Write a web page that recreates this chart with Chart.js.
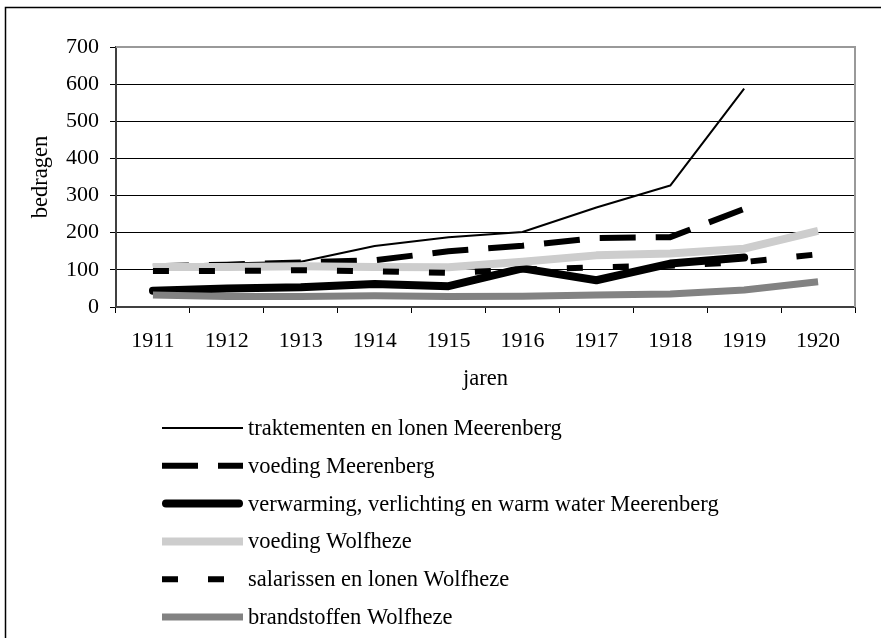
<!DOCTYPE html>
<html>
<head>
<meta charset="utf-8">
<script src="https://cdn.jsdelivr.net/npm/chart.js@4.4.1/dist/chart.umd.min.js"></script>
<style>
  body { margin: 0; background: #fff; }
  #wrap { width: 881px; height: 638px; }
</style>
</head>
<body>
<div id="wrap"><canvas id="chart" width="881" height="638"></canvas></div>
<script>
// jaren
var years = ['1911', '1912', '1913', '1914', '1915', '1916', '1917', '1918', '1919', '1920'];

// bedragen per reeks
var traktementenMeerenberg = [113, 117, 122, 164, 188, 202, 268, 327, 588, null];
var voedingMeerenberg = [110, 114, 120, 126, 150, 165, 186, 188, 264, null];
var verwarmingMeerenberg = [44, 50, 53, 62, 56, 104, 72, 117, 133, null];
var voedingWolfheze = [108, 108, 110, 108, 107, 122, 139, 144, 157, 205];
var salarissenWolfheze = [97, 97, 99, 96, 92, 101, 107, 111, 121, 142];
var brandstoffenWolfheze = [32, 28, 28, 30, 28, 29, 32, 35, 46, 68];

var seriesNames = [
    'traktementen en lonen Meerenberg',
    'voeding Meerenberg',
    'verwarming, verlichting en warm water Meerenberg',
    'voeding Wolfheze',
    'salarissen en lonen Wolfheze',
    'brandstoffen Wolfheze'
];

var yTicks = [0, 100, 200, 300, 400, 500, 600, 700];

var serif = "'Liberation Serif', 'Times New Roman', serif";

function lineSet(i, data, color, width, dash, cap){
    return {
        label: seriesNames[i],
        data: data,
        borderColor: color,
        backgroundColor: color,
        borderWidth: width,
        borderDash: dash,
        borderCapStyle: cap || 'butt',
        borderJoinStyle: 'round',
        pointRadius: 0,
        tension: 0,
        fill: false,
        order: 6 - i
    };
}

// legenda onder de grafiek, een reeks per regel
var stackedLegend = {
    id: 'stackedLegend',
    afterDraw: function(chart){
        var ctx = chart.ctx;
        ctx.save();
        chart.data.datasets.forEach(function(ds, i){
            var y = 428 + i * 37.8;
            ctx.beginPath();
            ctx.strokeStyle = ds.borderColor;
            ctx.lineWidth = ds.borderWidth;
            ctx.lineCap = ds.borderCapStyle;
            ctx.setLineDash(ds.borderDash || []);
            var x0 = 162, x1 = 243;
            if (ds.borderCapStyle === 'round') { x0 += ds.borderWidth / 2; x1 -= ds.borderWidth / 2; }
            ctx.moveTo(x0, y);
            ctx.lineTo(x1, y);
            ctx.stroke();
            ctx.setLineDash([]);
            ctx.fillStyle = '#000';
            ctx.font = '22.5px ' + serif;
            ctx.textBaseline = 'middle';
            ctx.textAlign = 'left';
            ctx.fillText(ds.label, 248, y + 1);
        });
        ctx.restore();
    }
};

var frame = {
    id: 'frame',
    afterDraw: function(chart){
        var ctx = chart.ctx;
        var a = chart.chartArea;
        ctx.save();
        // buitenkader (alleen links en boven zichtbaar)
        ctx.beginPath();
        ctx.strokeStyle = '#000';
        ctx.lineWidth = 1.5;
        ctx.moveTo(5.5, 638);
        ctx.lineTo(5.5, 7.5);
        ctx.lineTo(881, 7.5);
        ctx.stroke();
        // grijze rand boven/rechts van het plotvlak
        ctx.beginPath();
        ctx.strokeStyle = '#999';
        ctx.lineWidth = 2;
        ctx.moveTo(a.left, a.top);
        ctx.lineTo(a.right, a.top);
        ctx.lineTo(a.right, a.bottom);
        ctx.stroke();
        ctx.restore();
    }
};

var ctx = document.getElementById('chart').getContext('2d');
var myChart = new Chart(ctx, {
    type: 'line',
    data: {
        labels: years,
        datasets: [
            lineSet(0, traktementenMeerenberg, '#000', 2, []),
            lineSet(1, voedingMeerenberg, '#000', 6, [36, 20]),
            lineSet(2, verwarmingMeerenberg, '#000', 8, [], 'round'),
            lineSet(3, voedingWolfheze, '#cdcdcd', 8, []),
            lineSet(4, salarissenWolfheze, '#000', 6, [16, 30]),
            lineSet(5, brandstoffenWolfheze, '#828282', 7, [])
        ]
    },
    options: {
        responsive: false,
        animation: false,
        layout: {
            padding: { top: 47, right: 26, bottom: 241, left: 0 }
        },
        scales: {
            x: {
                offset: true,
                afterFit: function(axis){ axis.height = 90; },
                grid: {
                    offset: true,
                    drawOnChartArea: false,
                    drawTicks: true,
                    tickLength: 6,
                    color: '#000'
                },
                border: { color: '#404040', width: 2 },
                ticks: {
                    color: '#000',
                    padding: 15,
                    maxRotation: 0,
                    font: { family: serif, size: 22 }
                },
                title: {
                    display: true,
                    text: 'jaren',
                    color: '#000',
                    padding: { top: 0, bottom: 4 },
                    font: { family: serif, size: 22.5 }
                }
            },
            y: {
                min: 0,
                max: 700,
                afterFit: function(axis){ axis.width = 116; },
                afterBuildTicks: function(axis){
                    axis.ticks = yTicks.map(function(v){ return { value: v }; });
                },
                grid: {
                    color: '#000',
                    lineWidth: 1,
                    tickLength: 6
                },
                border: { color: '#404040', width: 2 },
                ticks: {
                    color: '#000',
                    padding: 11,
                    font: { family: serif, size: 22 }
                },
                title: {
                    display: true,
                    text: 'bedragen',
                    color: '#000',
                    padding: { top: 28, bottom: 0 },
                    font: { family: serif, size: 22.5 }
                }
            }
        },
        plugins: {
            legend: { display: false },
            tooltip: { enabled: false }
        }
    },
    plugins: [frame, stackedLegend]
});
</script>
</body>
</html>
